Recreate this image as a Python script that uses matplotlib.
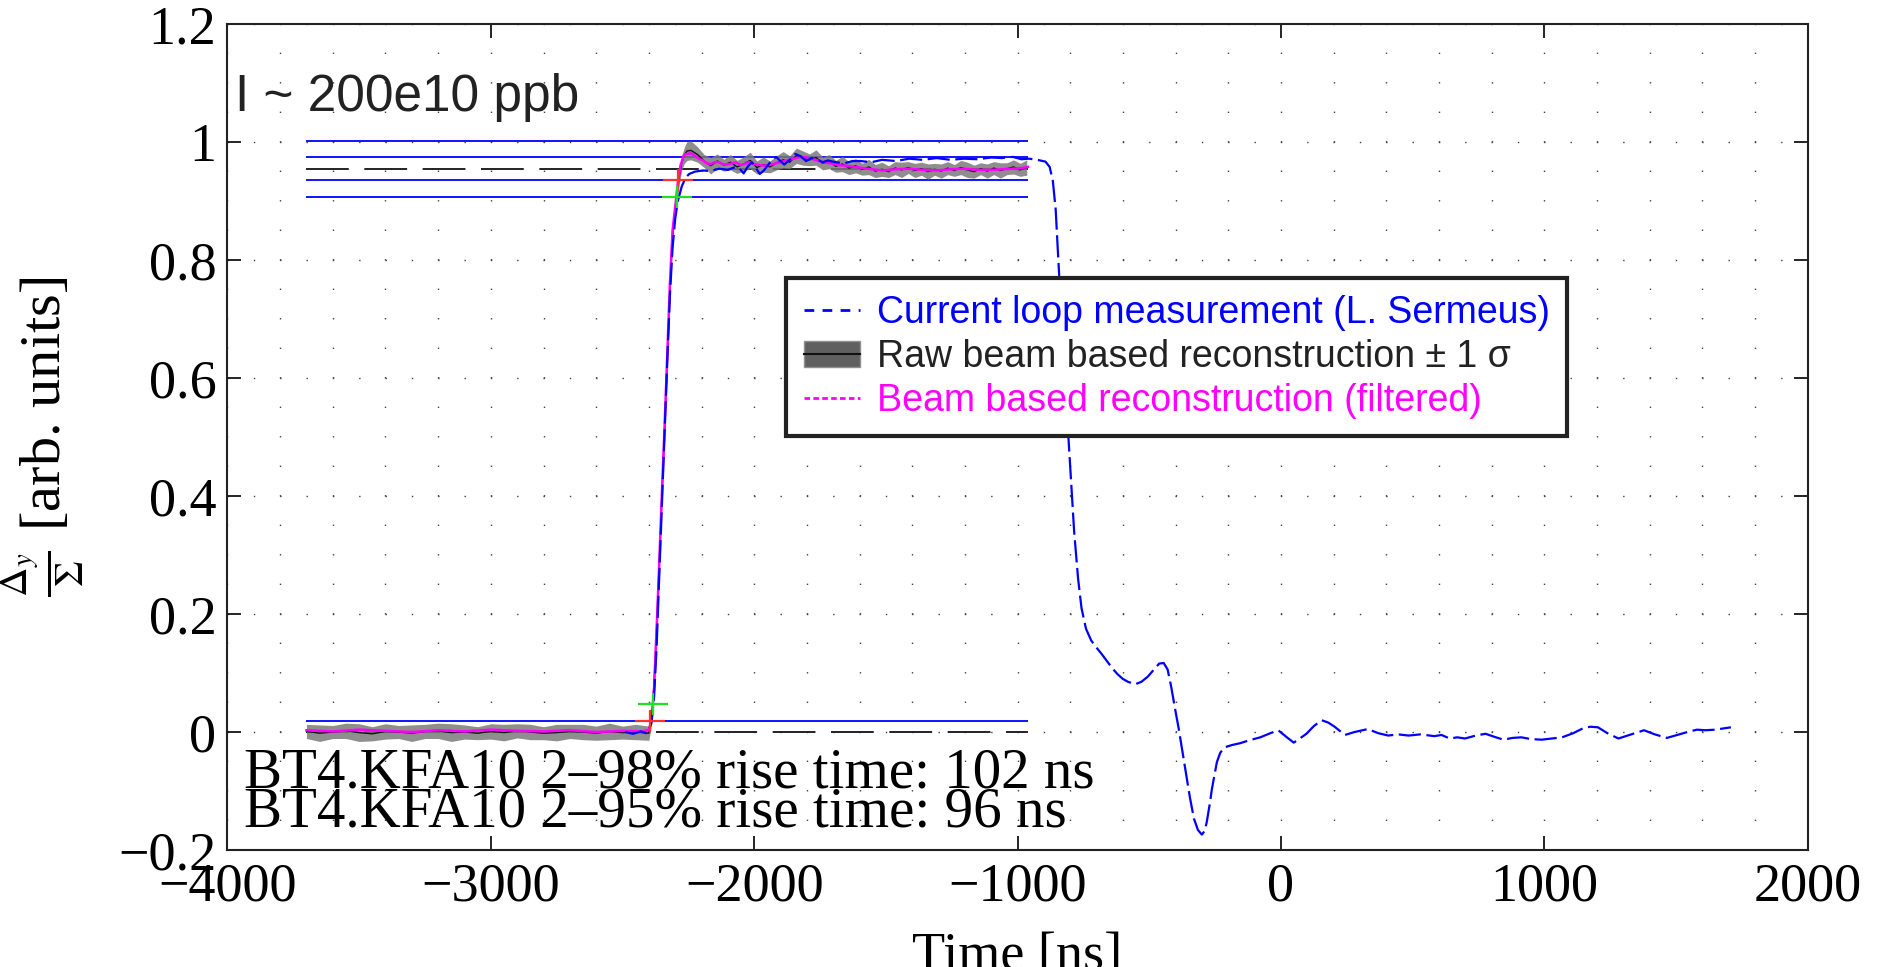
import matplotlib
matplotlib.use("Agg")
import matplotlib.pyplot as plt
from matplotlib.lines import Line2D
from matplotlib.patches import Patch
from matplotlib.path import Path
from matplotlib.ticker import MultipleLocator, FuncFormatter
import numpy as np

# Medida del lazo de corriente (L. Sermeus)
loop_t = [-2490, -2460, -2430, -2410, -2400, -2390, -2380, -2370, -2360, -2350,
          -2340, -2330, -2320, -2310, -2300, -2290, -2275, -2260, -2247, -2225,
          -2195, -2165, -2133, -2100, -2071, -2055, -2040, -2025, -2009, -1994,
          -1979, -1963, -1948, -1932, -1917, -1900, -1886, -1865, -1844, -1823,
          -1803, -1782, -1762, -1740, -1720, -1690, -1658, -1627, -1596, -1555,
          -1514, -1462, -1411, -1360, -1307, -1255, -1204, -1152, -1100, -1060,
          -1018, -985, -956, -925, -894, -878, -866, -855, -845, -830,
          -815, -800, -785, -770, -757, -740, -720, -700, -680, -660,
          -640, -620, -600, -580, -553, -530, -505, -480, -462, -445,
          -430, -417, -400, -388, -375, -359, -345, -330, -315, -300,
          -290, -282, -270, -262, -250, -243, -230, -214, -185, -155,
          -120, -78, -40, -10, 20, 49, 75, 97, 125, 155,
          180, 204, 243, 280, 330, 370, 408, 445, 485, 530,
          583, 610, 641, 670, 699, 740, 777, 810, 845, 880,
          913, 950, 990, 1030, 1068, 1110, 1146, 1175, 1204, 1240,
          1282, 1330, 1379, 1420, 1466, 1505, 1544, 1580, 1612, 1650,
          1709]
loop_v = [0.000, -0.003, 0.001, -0.002, 0.003, 0.015, 0.06, 0.15, 0.27, 0.39,
          0.51, 0.63, 0.74, 0.82, 0.87, 0.90, 0.925, 0.940, 0.946, 0.950,
          0.952, 0.951, 0.955, 0.953, 0.958, 0.955, 0.947, 0.958, 0.966, 0.957,
          0.946, 0.952, 0.961, 0.970, 0.975, 0.968, 0.962, 0.970, 0.980, 0.976,
          0.968, 0.973, 0.971, 0.966, 0.969, 0.966, 0.964, 0.968, 0.968, 0.966,
          0.970, 0.968, 0.972, 0.970, 0.973, 0.970, 0.972, 0.971, 0.974, 0.973,
          0.975, 0.971, 0.972, 0.970, 0.967, 0.958, 0.935, 0.885, 0.80, 0.68,
          0.56, 0.45, 0.34, 0.26, 0.21, 0.175, 0.155, 0.143, 0.132, 0.120,
          0.108, 0.098, 0.090, 0.085, 0.081, 0.085, 0.094, 0.107, 0.116, 0.117,
          0.106, 0.078, 0.035, 0.006, -0.030, -0.074, -0.112, -0.147, -0.166, -0.174,
          -0.168, -0.154, -0.122, -0.097, -0.068, -0.051, -0.035, -0.026, -0.022, -0.019,
          -0.014, -0.009, -0.002, 0.003, -0.008, -0.018, -0.010, -0.003, 0.010, 0.020,
          0.016, 0.009, -0.005, 0.000, 0.005, -0.002, -0.006, -0.004, -0.006, -0.004,
          -0.007, -0.005, -0.011, -0.009, -0.011, -0.006, -0.003, -0.008, -0.013, -0.010,
          -0.009, -0.012, -0.013, -0.011, -0.009, -0.002, 0.006, 0.009, 0.008, -0.002,
          -0.011, -0.004, 0.003, -0.004, -0.010, -0.005, 0.000, 0.004, 0.003, 0.004,
          0.008]

# Reconstruccion cruda +- 1 sigma
raw_t = (list(range(-3700, -2399, 50))
         + [-2395, -2385, -2375, -2365, -2355, -2345, -2335, -2325, -2315, -2305,
            -2295, -2285, -2275, -2265, -2255]
         + list(range(-2240, -964, 25)))
raw_v = [0.001, -0.002, 0.000, 0.002, -0.001, -0.003, 0.001, 0.000, -0.002, 0.001,
         0.002, -0.001, 0.000, -0.002, 0.001, -0.001, 0.002, 0.000, -0.002, -0.001,
         0.001, 0.000, -0.002, 0.001, -0.001, 0.000, -0.002,
         0.010, 0.045, 0.13, 0.24, 0.35, 0.46, 0.57, 0.69, 0.80, 0.87,
         0.905, 0.94, 0.965, 0.978, 0.985,
         0.986, 0.979, 0.968, 0.960, 0.968, 0.961, 0.966, 0.958, 0.963, 0.969,
         0.957, 0.962, 0.958, 0.965, 0.970, 0.966, 0.977, 0.973, 0.970, 0.974,
         0.964, 0.967, 0.959, 0.963, 0.956, 0.960, 0.954, 0.958, 0.951, 0.954,
         0.950, 0.956, 0.953, 0.957, 0.952, 0.955, 0.950, 0.954, 0.951, 0.956,
         0.952, 0.957, 0.953, 0.950, 0.955, 0.951, 0.956, 0.952, 0.955, 0.958,
         0.953, 0.957]
raw_sig = [0.012, 0.014, 0.011, 0.013, 0.015, 0.012, 0.013, 0.011, 0.014, 0.012,
           0.013, 0.015, 0.012, 0.011, 0.013, 0.014, 0.012, 0.013, 0.011, 0.014,
           0.012, 0.013, 0.012, 0.014, 0.011, 0.013, 0.012,
           0.012, 0.013, 0.014, 0.014, 0.015, 0.015, 0.015, 0.015, 0.014, 0.014,
           0.013, 0.013, 0.012, 0.014, 0.016,
           0.016, 0.013, 0.011, 0.014, 0.012, 0.010, 0.013, 0.011, 0.012, 0.014,
           0.011, 0.013, 0.010, 0.012, 0.014, 0.011, 0.013, 0.012, 0.010, 0.013,
           0.011, 0.012, 0.010, 0.013, 0.011, 0.012, 0.010, 0.013, 0.011, 0.012,
           0.010, 0.011, 0.013, 0.010, 0.012, 0.011, 0.013, 0.010, 0.012, 0.011,
           0.010, 0.012, 0.013, 0.011, 0.010, 0.012, 0.011, 0.013, 0.010, 0.012,
           0.011, 0.013]

# Reconstruccion filtrada
filt_t = [-3700, -3600, -3500, -3400, -3300, -3200, -3100, -3000, -2900, -2800,
          -2700, -2600, -2500, -2420,
          -2400, -2390, -2380, -2370, -2360, -2350, -2340, -2330, -2320, -2310,
          -2300, -2290, -2280, -2268,
          -2257, -2240, -2226, -2210, -2195, -2180, -2164, -2150, -2133, -2115,
          -2092, -2070, -2051, -2035, -2020, -2000, -1979, -1955, -1927, -1900,
          -1876, -1850, -1824, -1800, -1783, -1760, -1741, -1710, -1679, -1650,
          -1617, -1570, -1514, -1460, -1411, -1360, -1307, -1255, -1204, -1150,
          -1100, -1060, -1018, -985, -960]
filt_v = [0.003, 0.001, 0.004, 0.002, 0.000, 0.003, 0.001, 0.004, 0.002, 0.001,
          0.003, 0.000, 0.002, 0.001,
          0.004, 0.020, 0.075, 0.18, 0.29, 0.41, 0.52, 0.64, 0.76, 0.85,
          0.89, 0.93, 0.960, 0.977,
          0.980, 0.981, 0.977, 0.972, 0.969, 0.964, 0.963, 0.966, 0.966, 0.962,
          0.963, 0.966, 0.961, 0.963, 0.966, 0.963, 0.961, 0.960, 0.963, 0.966,
          0.969, 0.972, 0.975, 0.974, 0.972, 0.969, 0.966, 0.964, 0.961, 0.960,
          0.958, 0.955, 0.952, 0.954, 0.955, 0.953, 0.952, 0.954, 0.955, 0.953,
          0.953, 0.954, 0.955, 0.956, 0.958]

# Niveles del tiempo de subida
nivel_meseta = 0.955
fracciones_azul = [0.02, 0.95, 0.98, 1.02, 1.05]
tramo_niveles = [-3700, -960]
cruz_roja_t = [-2395, -2288]
cruz_roja_frac = [0.02, 0.98]
cruz_verde_t = [-2383, -2294]
cruz_verde_frac = [0.05, 0.95]

plt.rcParams['font.family'] = ['Liberation Serif', 'DejaVu Serif']
plt.rcParams['mathtext.fontset'] = 'stix'

fig = plt.figure(figsize=(18.77, 9.67), dpi=100)
ax = fig.add_axes([0.1212, 0.121, 0.8418, 0.854])

# Rejilla punteada estilo MATLAB
ax.xaxis.set_major_locator(MultipleLocator(1000))
ax.xaxis.set_minor_locator(MultipleLocator(200))
ax.yaxis.set_major_locator(MultipleLocator(0.2))
ax.grid(True, which='both', axis='x', color='0.25', linewidth=1.0,
        linestyle=(0, (1.0, 20.24)))
ax.grid(True, which='major', axis='y', color='0.25', linewidth=1.0,
        linestyle=(0, (1.0, 17.96)))
ax.set_axisbelow(True)

# Lineas de nivel
ax.hlines(np.array(fracciones_azul) * nivel_meseta, tramo_niveles[0], tramo_niveles[1],
          colors='#0000ff', linewidth=1.3, zorder=1.5)
ax.plot(tramo_niveles, [0, 0], color='#222222', linewidth=1.4, dashes=(22, 8), zorder=1.5)
ax.plot(tramo_niveles, [nivel_meseta, nivel_meseta], color='#222222', linewidth=1.4,
        dashes=(22, 8), zorder=1.5)

raw_v_arr = np.array(raw_v)
raw_sig_arr = np.array(raw_sig)
ax.fill_between(raw_t, raw_v_arr - raw_sig_arr, raw_v_arr + raw_sig_arr,
                color='#7a7a7a', alpha=0.85, linewidth=0, zorder=2)
ax.plot(raw_t, raw_v, color='#111111', linewidth=1.0, zorder=3)
ax.plot(filt_t, filt_v, color='#ff00ff', linewidth=1.8, zorder=4)
ax.plot(loop_t, loop_v, color='#0000ff', linewidth=1.6, dashes=(10, 2.5), zorder=5)

cruz = Path([(-1, 0), (1, 0), (0, -0.7), (0, 0.7)],
            [Path.MOVETO, Path.LINETO, Path.MOVETO, Path.LINETO])
ax.plot(cruz_roja_t, np.array(cruz_roja_frac) * nivel_meseta, linestyle='none',
        marker=cruz, markersize=22, markeredgewidth=1.6, color='#ff3030', zorder=6)
ax.plot(cruz_verde_t, np.array(cruz_verde_frac) * nivel_meseta, linestyle='none',
        marker=cruz, markersize=22, markeredgewidth=1.6, color='#20e020', zorder=6)

ax.set_xlim(-4000, 2000)
ax.set_ylim(-0.2, 1.2)
ax.yaxis.set_major_formatter(FuncFormatter(lambda v, p: ('%g' % round(v, 2)).replace('-', '\u2212')))
ax.xaxis.set_major_formatter(FuncFormatter(lambda v, p: ('%g' % v).replace('-', '\u2212')))
ax.tick_params(which='major', direction='in', length=10, width=1.2, top=True, right=True,
               labelsize=39, colors='black')
ax.tick_params(axis='x', which='major', pad=9)
ax.tick_params(axis='y', which='major', pad=8)
ax.tick_params(which='minor', length=0)
for s in ax.spines.values():
    s.set_linewidth(1.5)
    s.set_color('#222222')

ax.set_xlabel('Time [ns]', fontsize=39, labelpad=13)
ax.set_ylabel(r'$\frac{\Delta_y}{\Sigma}$ [arb. units]', fontsize=42)
ax.yaxis.set_label_coords(-0.0895, 0.5)

# Leyenda
manejadores = [
    Line2D([], [], color='#0000ff', linewidth=2, dashes=(3.5, 3)),
    (Patch(facecolor='#606060', edgecolor='#909090'), Line2D([], [], color='#111111', linewidth=1.5)),
    Line2D([], [], color='#ff00ff', linewidth=2, dashes=(2, 1.2)),
]
etiquetas = ['Current loop measurement (L. Sermeus)',
             'Raw beam based reconstruction \u00b1 1 \u03c3',
             'Beam based reconstruction (filtered)']
leg = fig.legend(manejadores, etiquetas, loc='upper left', bbox_to_anchor=(0.419, 0.7125),
                 bbox_transform=fig.transFigure, borderaxespad=0, fancybox=False,
                 framealpha=1, edgecolor='#222222', handlelength=1.5, handletextpad=0.45,
                 borderpad=0.46, labelspacing=0.21,
                 prop={'family': 'Liberation Sans', 'size': 27})
leg.get_frame().set_linewidth(3)
for txt, col in zip(leg.get_texts(), ['#0000ff', '#222222', '#ff00ff']):
    txt.set_color(col)

fig.text(0.1252, 0.885, 'I ~ 200e10 ppb', fontsize=37, family='Liberation Sans',
         color='#222222', va='baseline')
fig.text(0.1300, 0.1855, 'BT4.KFA10 2\u201398% rise time: 102 ns', fontsize=41,
         va='baseline', color='black')
fig.text(0.1300, 0.1458, 'BT4.KFA10 2\u201395% rise time: 96 ns', fontsize=41,
         va='baseline', color='black')

fig.savefig('out.png', dpi=100)
